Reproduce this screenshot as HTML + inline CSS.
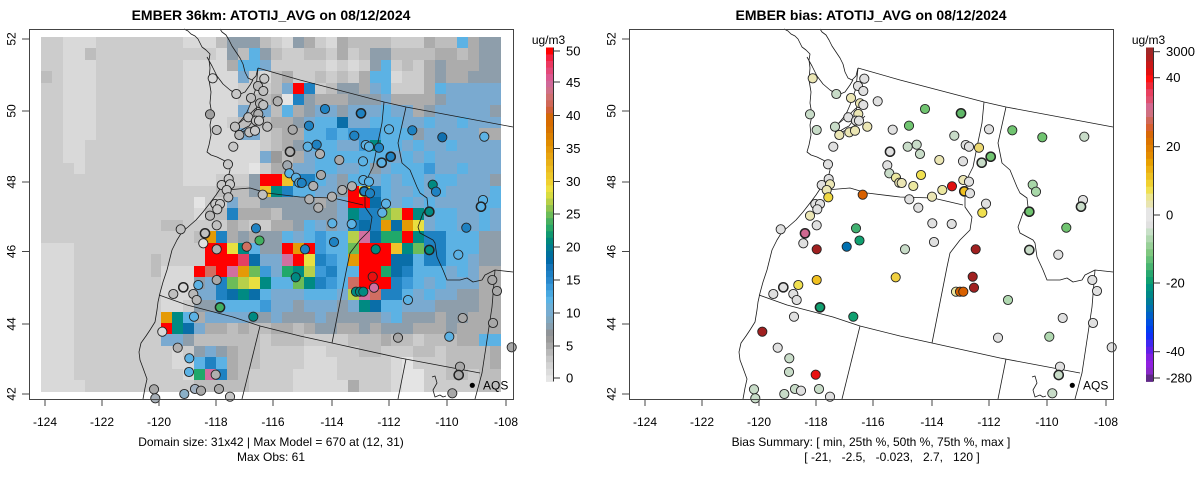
<!DOCTYPE html>
<html><head><meta charset="utf-8">
<style>
html,body{margin:0;padding:0;background:#fff;}
svg{display:block;font-family:"Liberation Sans",Arial,sans-serif;}
</style></head>
<body>
<svg id="s" xmlns="http://www.w3.org/2000/svg" width="1200" height="479" viewBox="0 0 1200 479">
<rect x="0" y="0" width="1200" height="479" fill="#fff"/>
<defs>
<g id="map" fill="none" stroke="#1a1a1a" stroke-width="0.8" stroke-linejoin="round">
<path d="M184,29 L188,31 L191,34 L195,36 L198,39 L200,43 L202,47 L206,50 L210,54 L209,60 L210,68 L209,80 L211,92 L210,103 L212,115 L210,125 L211,135 L209,145 L207,152 L211,155 L217,157 L223,160 L229,163 L230,170 L228,178 L222,186 L216,195 L210,203 L203,212 L196,220 L188,227 L182,232 L177,240 L172,250 L170,258 L167,270 L163,282 L160,293 L158,302 L157,310 L155,322 L150,330 L146,336 L141,343 L139,352 L140,360 L143,368 L147,379 L145,388 L143,399"/>
<path d="M220,29 L222,32 L226,35 L229,40 L232,46 L236,52 L240,58 L243,64 L245,72 L248,78 L252,80 L256,76 L258,68"/>
<path d="M258,68 L257,78 L256,88 L253,97 L250,105 L247,112 L243,118 L238,124 L234,129 L236,133 L240,131 L245,128 L249,126 L252,122 L255,118 L256,110 L258,104"/>
<path d="M232,131 L238,124 L244,119 L250,114 L255,109 L261,104"/>
<path d="M236,135 L242,132 L248,129 L254,126 L260,121 L265,116"/>
<path d="M207,57 L212,66 L217,76 L223,84 L230,90 L238,95 L245,92 L250,85 L253,80"/>
<path d="M258,68 L300,80 L384,102 L406,107 L513,127"/>
<path d="M384,102 L382,123 L377,147 L373,167 L368,177 L365,192 L365,207 L372,217 L370,230 L360,240 L350,253 L347,267 L332,343"/>
<path d="M406,107 L398,143 L402,163 L410,170 L417,187 L420,193 L427,198 L428,207 L423,213 L418,227 L420,233 L433,240 L435,243 L437,257 L443,270 L447,280 L460,280 L467,278 L473,282 L482,280 L485,275 L495,270 L513,272"/>
<path d="M495,270 L492,307 L487,340 L482,373 L475,399"/>
<path d="M159,295 L187,305 L233,317 L260,326 L300,336 L332,343 L400,358 L480,373"/>
<path d="M260,326 L242,399"/>
<path d="M406,359 L398,399"/>
<path d="M226,190 L250,188 L267,193 L300,197 L333,198 L363,205"/>
<path d="M432,377 L435,376 L437,383 L433,390 L435,397 L440,395 L443,397 L446,396"/>
</g>
</defs>

<g id="L"><g id="grid"></g><use href="#map"/><g id="dotsL"></g></g>
<g id="R" transform="translate(600,0)"><use href="#map"/><g id="dotsR"></g></g>

<g id="frames"></g>

<text x="271" y="20" font-size="14" font-weight="bold" text-anchor="middle">EMBER 36km: ATOTIJ_AVG on 08/12/2024</text>
<text x="271" y="446" font-size="12" text-anchor="middle">Domain size: 31x42 | Max Model = 670 at (12, 31)</text>
<text x="271" y="461" font-size="12" text-anchor="middle">Max Obs: 61</text>
<text x="548.5" y="44" font-size="12" text-anchor="middle">ug/m3</text>

<text x="871" y="20" font-size="14" font-weight="bold" text-anchor="middle">EMBER bias: ATOTIJ_AVG on 08/12/2024</text>
<text x="871" y="446" font-size="12" text-anchor="middle">Bias Summary: [ min, 25th %, 50th %, 75th %, max ]</text>
<text x="892" y="461" font-size="12" text-anchor="middle" style="white-space:pre" xml:space="preserve">[ -21,   -2.5,   -0.023,   2.7,   120 ]</text>
<text x="1148.5" y="44" font-size="12" text-anchor="middle">ug/m3</text>

<g font-size="12" text-anchor="middle">
<text transform="translate(15.5,39) rotate(-90)">52</text>
<text transform="translate(15.5,111) rotate(-90)">50</text>
<text transform="translate(15.5,182) rotate(-90)">48</text>
<text transform="translate(15.5,251.5) rotate(-90)">46</text>
<text transform="translate(15.5,324) rotate(-90)">44</text>
<text transform="translate(15.5,394) rotate(-90)">42</text>
<text x="45" y="426">-124</text>
<text x="102" y="426">-122</text>
<text x="159" y="426">-120</text>
<text x="216" y="426">-118</text>
<text x="273" y="426">-116</text>
<text x="332" y="426">-114</text>
<text x="389" y="426">-112</text>
<text x="447" y="426">-110</text>
<text x="506" y="426">-108</text>

<text transform="translate(615.5,39) rotate(-90)">52</text>
<text transform="translate(615.5,111) rotate(-90)">50</text>
<text transform="translate(615.5,182) rotate(-90)">48</text>
<text transform="translate(615.5,251.5) rotate(-90)">46</text>
<text transform="translate(615.5,324) rotate(-90)">44</text>
<text transform="translate(615.5,394) rotate(-90)">42</text>
<text x="645" y="426">-124</text>
<text x="702" y="426">-122</text>
<text x="759" y="426">-120</text>
<text x="816" y="426">-118</text>
<text x="873" y="426">-116</text>
<text x="932" y="426">-114</text>
<text x="989" y="426">-112</text>
<text x="1047" y="426">-110</text>
<text x="1106" y="426">-108</text>
</g>

<circle cx="472.3" cy="385.3" r="2.6" fill="#000"/>
<text x="483" y="389.5" font-size="12">AQS</text>
<circle cx="1072.3" cy="385.3" r="2.6" fill="#000"/>
<text x="1083" y="389.5" font-size="12">AQS</text>

<g font-size="13">
<text x="566" y="55.5">50</text>
<text x="566" y="87">45</text>
<text x="566" y="120">40</text>
<text x="566" y="153">35</text>
<text x="566" y="186">30</text>
<text x="566" y="218.5">25</text>
<text x="566" y="251.5">20</text>
<text x="566" y="284.5">15</text>
<text x="566" y="317.5">10</text>
<text x="566" y="350.5">5</text>
<text x="566" y="382.5">0</text>

<text x="1166" y="56">3000</text>
<text x="1166" y="82">40</text>
<text x="1166" y="151">20</text>
<text x="1166" y="219.5">0</text>
<text x="1166" y="287.5">-20</text>
<text x="1166" y="356">-40</text>
<text x="1166" y="382.5">-280</text>
</g>
<g id="bars"></g>
</svg>

<script>
(function(){
var NS='http://www.w3.org/2000/svg';
function el(t,a,p){var e=document.createElementNS(NS,t);for(var k in a)e.setAttribute(k,a[k]);p.appendChild(e);return e;}
var C={a:'#e4e4e4',b:'#d9d9d9',c:'#cccccc',d:'#bdbdbd',e:'#acacac',f:'#9a9a9a',g:'#8e9eab',h:'#7aaad0',i:'#5cb2e4',j:'#3c9ad8',k:'#1f82c2',l:'#0a6ea8',m:'#008a82',n:'#20a86a',o:'#6cbc58',p:'#b6d04a',q:'#e8e040',r:'#f0c22a',s:'#e59a06',t:'#d86818',u:'#d06e62',v:'#d070a0',w:'#e44062',x:'#ff0000'};
var G=[
"ccbbbccccccccbbbd"+"gggdcbgecbeddddccceddiegg",
"ccbbdcccccccccccb"+"gdigdccddcecdggddddeedegg",
"ccbbbccccccccbbbb"+"eiihcccccbcbcgicdcegeeegg",
"dcbbbccccccccbbbb"+"bhcbdeccdcdceiibccegeeggg",
"ccbbbccccccccbbbb"+"bcccdhxkcdggehiccceihhhhh",
"ccbbbccccccccbbbb"+"bcddeakgeeegggheeeeghhhhh",
"ccbbbccccccccbbbb"+"bhdhdieghhghhhihheghhhhhg",
"ccbbbccccccccbbbb"+"cdddeeghiilhhiiihhihhihhh",
"ccbbbccccccccbbbb"+"bhhcdeeiijijjjiiighhhhhee",
"ccbbcccccccccbbbb"+"bbbcdegiiihhjmiihihhihhhh",
"ccbbcccccccccbbbb"+"bbbhfdehiiiiiiihihihhhhhh",
"cccbcccccccccbbbb"+"bbaceehhiihhighiiijhhihhh",
"cccccccccccccbbbc"+"ccgxxrkkihgiihihiihiihhhg",
"ccccccccccccccccd"+"ddgrmkiihhgxqkihhihihhhhi",
"cccccccccccccccacc".slice(0,13)+"cacc"+"hddgggggeghxxlihihihhhhii",
"ccccccccccccccbdd"+"keeedggggghmkkopxmhiihhih",
"cccccccccccddcccc"+"edcceegihghklkslsqhiihhih",
"ccccccccccccccdsk"+"egeggihijiipvlnnxmkkiiigg",
"bbbccccccccccccxx"+"qmiggxsxjiioxxxrmokkiiigg",
"bbbcccccccdccccxx"+"xwlhhvxqkjisxxxllikkiihgg",
"bbbcccccccdbbbxux"+"vsojhnmpjkiixxnlkiiihihee",
"bbbccccccccbbbghk"+"opqmiiomkjiuxxxkjihihhhee",
"bbbccccccccbbbhhk"+"lmlihhhiiihpvukkihihhggee",
"bbbccccccccbbcggi"+"iiijhhghhhghmliihhhggggee",
"bbbccccccccsmiehh"+"hhgghggghggggghigggeggeee",
"bbbccccccccxmlhee"+"deddeedeggeegegggeeegeeee",
"bbbcccccccchhgddd"+"dddcdddccccdddeddcdddeeii",
"bbbcccccccccbcghg"+"eddccccbbcccddcccddcdddde",
"bbbcccccccccbbiki"+"eddccccbbbcccccbacccdddde",
"bbbccccccccccbnvk"+"edccccbbbbcccccbaaccddcdd",
"bbbbccccccccccddd"+"ddccccbbbbbecccbaacccccdd"];
var grid=document.getElementById('grid');
var x0=41,cw=460/42,y0=36.7,ch=355/31;
for(var r=0;r<G.length;r++){
 var row=G[r];
 var ya=Math.round(y0+r*ch), yb=Math.round(y0+(r+1)*ch);
 var c=0;
 while(c<42){
  var ch0=row.charAt(c)||'c', c2=c;
  while(c2+1<42 && (row.charAt(c2+1)||'c')===ch0) c2++;
  var xa=Math.round(x0+c*cw), xb=Math.round(x0+(c2+1)*cw);
  el('rect',{x:xa,y:ya,width:xb-xa,height:yb-ya,fill:C[ch0]||'#ccc'},grid);
  c=c2+1;
 }
}
var Y1='#ebe6b4',PG='#c8dcc8',GR='#70c470',GY='#e0e0e0',LB='#5cb2e4',BL='#1f82c2',TE='#008a82';
var D=[
[212.7,78.3,'#d8d8d8',Y1,0],[236.3,94,'#c8c8c8',PG,0],[251,98,'#c0c0c0',Y1,0],[264.3,78.7,'#c8c8c8',GY,0],
[258,86,'#b8b8b8',GY,0],[263.3,91,'#c0c0c0',GY,0],[260,103.3,'#b8b8b8',Y1,0],[263.3,105,'#c0c0c0',GY,0],
[277.7,101.3,'#b0b0b0',GY,0],[210,114.3,'#a0a0a0',PG,0],[258.3,114,'#b0b0b0',Y1,0],[248.3,117.3,'#c0c0c0',GY,0],
[256,120.7,'#c0c0c0',GY,0],[259,120.7,'#c8c8c8',GY,0],[267.3,126.7,'#c0c0c0',Y1,0],[235,126.7,'#c0c0c0',PG,0],
[216.7,130,'#c0c0c0',PG,0],[239.3,135,'#b8b8b8',Y1,0],[249.3,132.3,'#c0c0c0',Y1,0],[255,130.7,'#c8c8c8',Y1,0],
[292.7,129.7,'#a8a8a8',GY,0],[233.3,146.7,'#c8c8c8',GY,0],[290,151.7,'#b0b0b0',GY,1],[228,164.3,'#c8c8c8',GY,0],
[287.3,165.3,'#a0a8b0',GY,0],[289.3,173.3,LB,PG,0],[296,177.7,LB,'#ece8a0',0],[299.3,182.7,LB,Y1,0],
[228.7,179,'#c8c8c8',GY,0],[221.7,185,'#c8c8c8',GY,0],[230,184.3,'#c8c8c8',Y1,0],[226.7,190,'#c8c8c8',Y1,0],
[228.3,197.3,'#c0c0c0','#f0d840',0],[262.7,194.7,'#c0c0c0','#d86000',0],[215.3,204,'#c8c8c8',GY,0],[220,204,'#c8c8c8',GY,0],
[217.3,209.3,'#c8c8c8',GY,0],[210,215.7,'#b8b8b8',Y1,0],[216.7,225.3,'#c0c0c0',GY,0],[180.7,229.3,'#c0c0c0',GY,0],
[256,228.3,BL,'#40b070',0],[205,233.3,'#c0c0c0','#d06890',1],[259.5,240.5,'#40b060','#10a070',0],
[325,109,BL,GR,0],[361,113.3,BL,'#60b868',1],[309,125.7,BL,GR,0],[389,129.3,LB,GY,0],[412.3,130.3,BL,GR,0],
[442.3,137.3,'#1070b0',GR,0],[484.3,136.7,LB,PG,0],[354.3,135.7,BL,PG,0],[307.7,146.7,LB,PG,0],[316.7,144.7,BL,PG,0],
[365.7,145,LB,GY,0],[369,146.7,LB,GY,0],[379,147.7,BL,'#ecd870',0],[320,154,'#b0b0b0',PG,0],[390.7,156.7,BL,GR,1],
[381.7,162.7,LB,PG,1],[339.3,160,'#a8a8a8',Y1,0],[363,161.3,LB,GY,0],[321,175,'#a8a8a8','#f0e050',0],
[301.7,183,BL,Y1,0],[313.3,186,'#b0b0b0','#ece8a0',0],[342.3,190,'#b0b0b0','#ece8a0',0],[352,186.3,'#b0b0b0','#e01010',0],
[363.3,180,LB,Y1,0],[369,181.7,LB,GY,0],[364.3,191.3,BL,'#f0c020',1],[370,193.3,BL,GY,0],[309.3,199.3,'#b0b0b0',GY,0],
[332,196.7,'#b0b0b0',Y1,0],[318.3,207.7,'#b0b0b0',GY,0],[386,203.7,LB,GY,0],[382.3,212.7,LB,'#f0e050',0],
[432.7,184.7,TE,'#a8d8a8',0],[436,191.7,BL,'#a8d8a8',0],[429.3,211.7,TE,GR,1],[483,200,LB,GY,0],[481,206.7,LB,PG,1],
[332.3,223.3,LB,GY,0],[351.7,224,LB,GY,0],[466.3,227.7,BL,GR,0],[334,242,BL,GY,0],
[203.3,243.3,'#e0e0e0',GY,0],[216.7,249.3,'#b0b0b0','#a02020',0],[246.7,246.7,'#d07060','#0070b0',0],[295.7,277.3,TE,'#f0d040',0],
[183.3,287.3,'#d8d8d8',GY,1],[198.3,285,LB,'#f0e050',0],[216.7,280,'#a8a8a8','#f0c020',0],[173.3,294,'#c0c0c0',GY,0],
[193.3,294,'#b8b8b8',GY,0],[196.7,300,'#b8b8b8',GY,0],[220,307.3,'#40b060','#10a070',1],[253.3,316.7,TE,'#10a070',0],
[194,316.7,LB,GY,0],[162.3,331.7,'#d8d8d8','#a02020',0],[177.7,347.7,'#b0b0b0',GY,0],[189.3,358.3,LB,PG,0],
[189,372,LB,PG,0],[215.7,374.7,'#b0b0b0','#e81010',0],[154,389.3,'#a8a8a8',PG,0],[155.3,398.3,'#a8b0b8',PG,0],
[184.3,394,'#8ab0c8',PG,0],[195,389,'#a0b0c0',PG,0],[201,390.7,'#a8a8a8',GY,0],[219,389,'#a8a8a8',PG,0],[230,396.7,'#c8c8c8',GY,0],
[305,249.3,BL,PG,0],[375.7,249.3,TE,'#a02020',0],[429.3,250,TE,PG,1],[458.3,254.7,LB,GY,0],
[372.7,276.7,'#e81010','#a02020',0],[374,287.7,'#d070a0','#a02020',0],[356,291.7,TE,'#ece8a0',0],[360,291.7,TE,'#d86000',0],
[363.3,291.7,TE,'#d86000',0],[408,300,LB,'#b0d8b0',0],[492.3,280,'#a8a8a8',GY,0],[497,291,'#a8a8a8',GY,0],
[462.7,318,'#a8a8a8',GY,0],[493,323,'#a8a8a8',GY,0],[398,337.7,'#a8a8a8',GY,0],[449.3,336.7,LB,'#b0d8b0',0],
[511.7,347.3,'#a8a8a8',GY,0],[460,366.7,'#a8a8a8',GY,0],[458.7,375,'#a8a8a8',PG,1],[452.3,393.3,'#a8a8a8',PG,0]
];
var dL=document.getElementById('dotsL'),dR=document.getElementById('dotsR');
for(var i=0;i<D.length;i++){var d=D[i];
 el('circle',{cx:d[0],cy:d[1],r:4.6,fill:d[2],stroke:'#222','stroke-width':d[4]?1.5:0.9},dL);
 el('circle',{cx:d[0],cy:d[1],r:4.6,fill:d[3],stroke:'#222','stroke-width':d[4]?1.5:0.9},dR);
}
var fr=document.getElementById('frames');
var yt=[39,111,182,251.5,324,394], xt=[45,102,159,216,273,332,389,447,506];
[0,600].forEach(function(o){
 el('rect',{x:29+o+0.5,y:29.5,width:484,height:370,fill:'none',stroke:'#444','stroke-width':1},fr);
 yt.forEach(function(y){el('line',{x1:22+o,x2:29+o,y1:y,y2:y,stroke:'#444','stroke-width':1},fr);});
 xt.forEach(function(x){el('line',{x1:x+o,x2:x+o,y1:399,y2:406,stroke:'#444','stroke-width':1},fr);});
});
var bars=document.getElementById('bars');
var LC=['#e6e6e6','#dcdcdc','#d2d2d2','#c6c6c6','#b8b8b8','#a8a8a8','#9a9a9a','#909498','#88a0b0','#80a8c0','#78acd0','#6cb0d8','#5ab4e6','#48a8e0','#3898d8','#2888cc','#1e80c4','#1474b8','#006aa8','#00709c','#007c90','#00887c','#109870','#28a868','#48b060','#6cbc58','#90c450','#b8d048','#d8dc40','#eee040','#f0d030','#eec828','#ecbc20','#e8b018','#e8a410','#e49808','#e08c00','#dc8000','#d87400','#d86c00','#d46808','#d06038','#d06858','#d07070','#d07088','#d06898','#dc5890','#e44878','#ec3860','#f42040','#ff0000'];
var top=47.5,bot=381.5,n=LC.length,h=(bot-top)/n;
for(var k=0;k<n;k++){var yy=bot-(k+1)*h;el('rect',{x:546,y:yy.toFixed(2),width:7,height:(h+0.4).toFixed(2),fill:LC[k]},bars);}
var RC=['#a02828','#b02020','#c81818','#e01010','#ff1010','#f02838','#e84060','#e05070','#d46890','#d07080','#d06858','#d86030','#d86808','#dc7400','#e08000','#e48c00','#e8a000','#ecb010','#eec020','#f0d030','#f0e050','#ece690','#e8e4b0','#e6e6e6','#e6e6e6','#e0e0e0','#c8e0c8','#b0d8b0','#98d098','#80c880','#64c078','#48b470','#28a870','#10a070','#009480','#008888','#007c98','#0070b0','#0060c8','#0050e0','#0040f0','#1030f8','#4028f0','#6020e8','#8020e0','#9020e0','#8828c8','#602888'];
var h2=(bot-top)/RC.length;
for(var k2=0;k2<RC.length;k2++){el('rect',{x:1146,y:(top+k2*h2).toFixed(2),width:7,height:(h2+0.4).toFixed(2),fill:RC[k2]},bars);}
el('line',{x1:553.5,x2:553.5,y1:top,y2:bot,stroke:'#333','stroke-width':1},bars);
el('line',{x1:1153.5,x2:1153.5,y1:top,y2:bot,stroke:'#333','stroke-width':1},bars);
[51,82,115.5,148.5,181.5,214,247,280,313,346,378].forEach(function(y){el('line',{x1:553,x2:560,y1:y,y2:y,stroke:'#333','stroke-width':1},bars);});
[51.7,77.7,146.7,215,283,351.7,378].forEach(function(y){el('line',{x1:1153,x2:1160,y1:y,y2:y,stroke:'#333','stroke-width':1},bars);});
})();
</script>
</body></html>
